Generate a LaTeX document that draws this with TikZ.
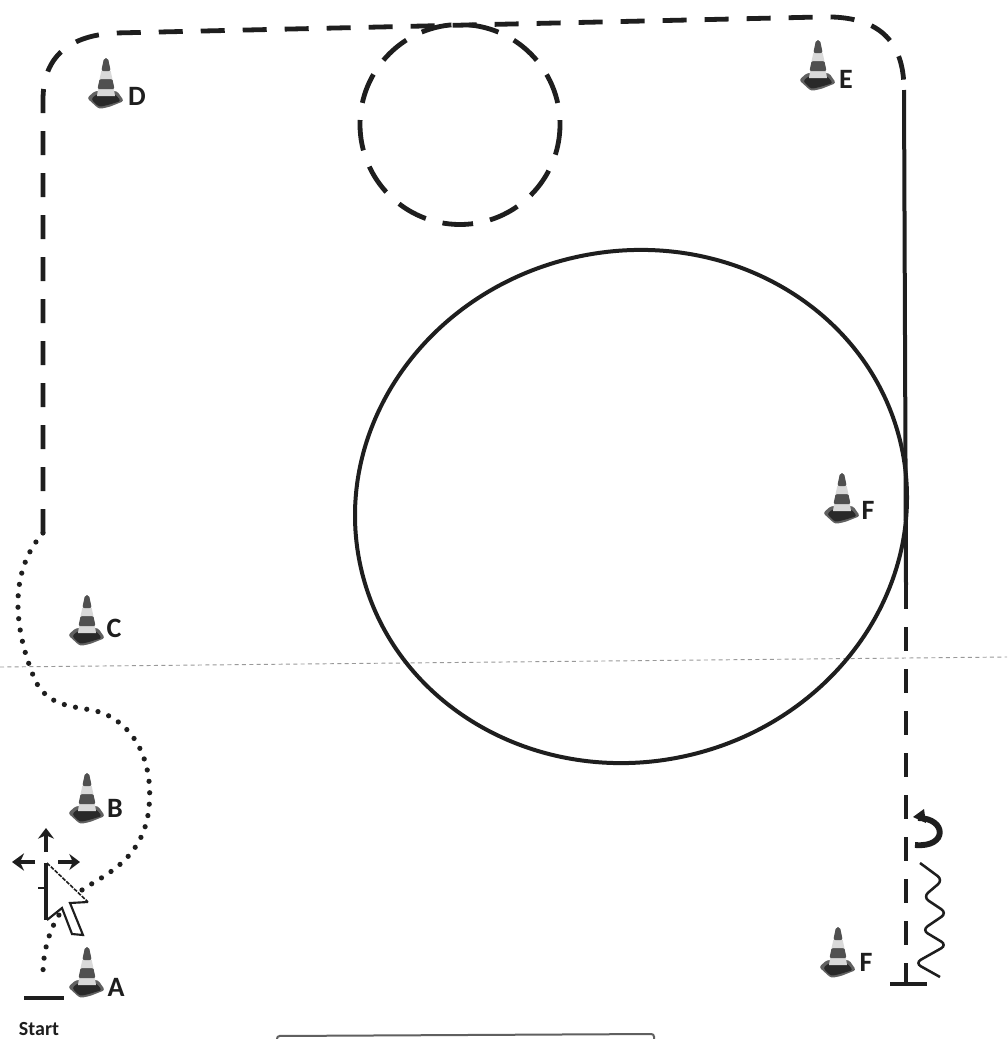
\documentclass[tikz,border=0pt]{standalone}
\usepackage{fontspec}
\setmainfont{Carlito}
\usetikzlibrary{arrows.meta}
\definecolor{ink}{HTML}{1E1E1E}
\tikzset{
 x=0.75pt,y=-0.75pt,
 solidline/.style={draw=ink,line width=3pt},
 dashline/.style={draw=ink,line width=3.6pt,dash pattern=on 18pt off 13.5pt},
 ringline/.style={draw=ink,line width=3.6pt,dash pattern=on 23pt off 13pt},
 dotline/.style={draw=ink,line width=3.9pt,line cap=round,dash pattern=on 0pt off 8.6pt},
 conelabel/.style={font=\bfseries\fontsize{21}{21}\selectfont,text=ink,inner sep=0pt},
 cone/.pic={
  \fill[ink!70,rounded corners=2pt] (-19,17) -- (-11,10) -- (11,10) -- (18,20) -- (3,26) -- (-7,28) -- cycle;
  \fill[ink!95,rounded corners=2pt] (-15,18) -- (-9,13) -- (9,13) -- (15,20) -- (2,24) -- (-7,26) -- cycle;
  \fill[gray!30] (-9,15) -- (-6.4,-2) -- (6.4,-2) -- (9,15) -- cycle;
  \fill[ink!78,rounded corners=1pt] (-8.5,8) -- (-6.4,-2) -- (6.4,-2) -- (8.5,8) -- cycle;
  \fill[gray!30] (-6.4,-2) -- (-4.7,-10) -- (4.7,-10) -- (6.4,-2) -- cycle;
  \fill[ink!78,rounded corners=1.5pt] (-4.7,-10) -- (-2,-23) -- (2,-23) -- (4.7,-10) -- cycle;
 },
}
\begin{document}
\begin{tikzpicture}
\useasboundingbox (0,0) rectangle (1007,1039);
\fill[white] (0,0) rectangle (1007,1039);
% horizon dashed hairline
\coordinate (hl) at (0,667); \coordinate (hr) at (1007,657);
\draw[gray!80,line width=0.7pt,dash pattern=on 3pt off 2.5pt] (hl) -- (hr);
% big circle
\draw[solidline] (631,506.5) ellipse [x radius=277,y radius=255.4,rotate=13];
% dashed circle
\draw[ringline] (460,124.5) circle [radius=100];
% course
\coordinate (p1) at (43,533); \coordinate (p2) at (43,100);
\coordinate (p3) at (115,33); \coordinate (p4) at (820,17);
\coordinate (p5) at (904,90); \coordinate (p6) at (906,585);
\coordinate (p7) at (906,983);
\draw[dashline] (p1) -- (p2) .. controls (43,60) and (65,36) .. (p3) -- (p4)
  .. controls (878,15) and (904,40) .. (p5);
\draw[solidline] (p5) -- (p6);
\draw[dashline] (p6) -- (p7);
\draw[dotline] (p1) .. controls (10,570) and (12,625) .. (35,680)
  .. controls (50,712) and (85,705) .. (105,714)
  .. controls (140,730) and (155,770) .. (148,815)
  .. controls (140,860) and (105,875) .. (85,888)
  .. controls (62,902) and (42,935) .. (43,978);
% start and finish bars
\coordinate (sa) at (24,998); \coordinate (sb) at (64,998);
\draw[ink,line width=2.6pt] (sa) -- (sb);
\coordinate (fa) at (890,984); \coordinate (fb) at (927,984);
\draw[ink,line width=2.6pt] (fa) -- (fb);
% cones
\pic at (87,970) {cone}; \node[conelabel] (A) at (116,987) {A};
\pic at (87,796) {cone}; \node[conelabel] (B) at (115,808) {B};
\pic at (87,618) {cone}; \node[conelabel] (C) at (114,628) {C};
\pic at (106,81) {cone}; \node[conelabel] (D) at (137,96) {D};
\pic at (818,63) {cone}; \node[conelabel] (E) at (846,79) {E};
\pic at (842,496) {cone}; \node[conelabel] (F1) at (868,510) {F};
\pic at (838,950) {cone}; \node[conelabel] (F2) at (866,962) {F};
\node[font=\bfseries\fontsize{15}{15}\selectfont,text=ink,inner sep=0pt] (S) at (39,1029) {Start};
% spin and wave marks
\draw[ink,line width=4.4pt] (918,818) .. controls (947,818) and (948,848) .. (915,845);
\fill[ink] (913,817) -- (924,809) -- (926,823) -- cycle;
\draw[ink,line width=1.9pt,rounded corners=5pt] (920,863) -- (943,880) -- (923,897) -- (947,913) -- (922,930) -- (947,945) -- (915,963) -- (940,977);
% cursor
\fill[white] (47,866) -- (84,901) -- (70,903) -- (82,934) -- (72,933) -- (62,908) -- (48,920) -- cycle;
\draw[ink,line width=1.2pt,dash pattern=on 3pt off 1pt] (47,863) -- (88,902);
\draw[ink,line width=2.8pt] (46,863) -- (46,920);
\draw[ink,line width=1.6pt] (88,902) -- (70,903) -- (83,935) -- (72,934) -- (62,908) -- (47,920);
\draw[ink,line width=3.4pt,-{Stealth[length=9pt,width=13pt]}] (35,862) -- (12,862);
\draw[ink,line width=3.2pt,-{Stealth[length=8pt,width=12pt]}] (58,862) -- (80,862);
\draw[ink,line width=3.2pt,-{Stealth[length=8pt,width=12pt]}] (46,852) -- (46,828);
\draw[ink,line width=2.2pt] (38,888) -- (46,888);
% partial box at bottom edge
\draw[gray!75!black,line width=1.5pt,rounded corners=2pt] (277,1042) -- (277,1036) -- (654,1034) -- (654,1042);
\end{tikzpicture}
\end{document}
